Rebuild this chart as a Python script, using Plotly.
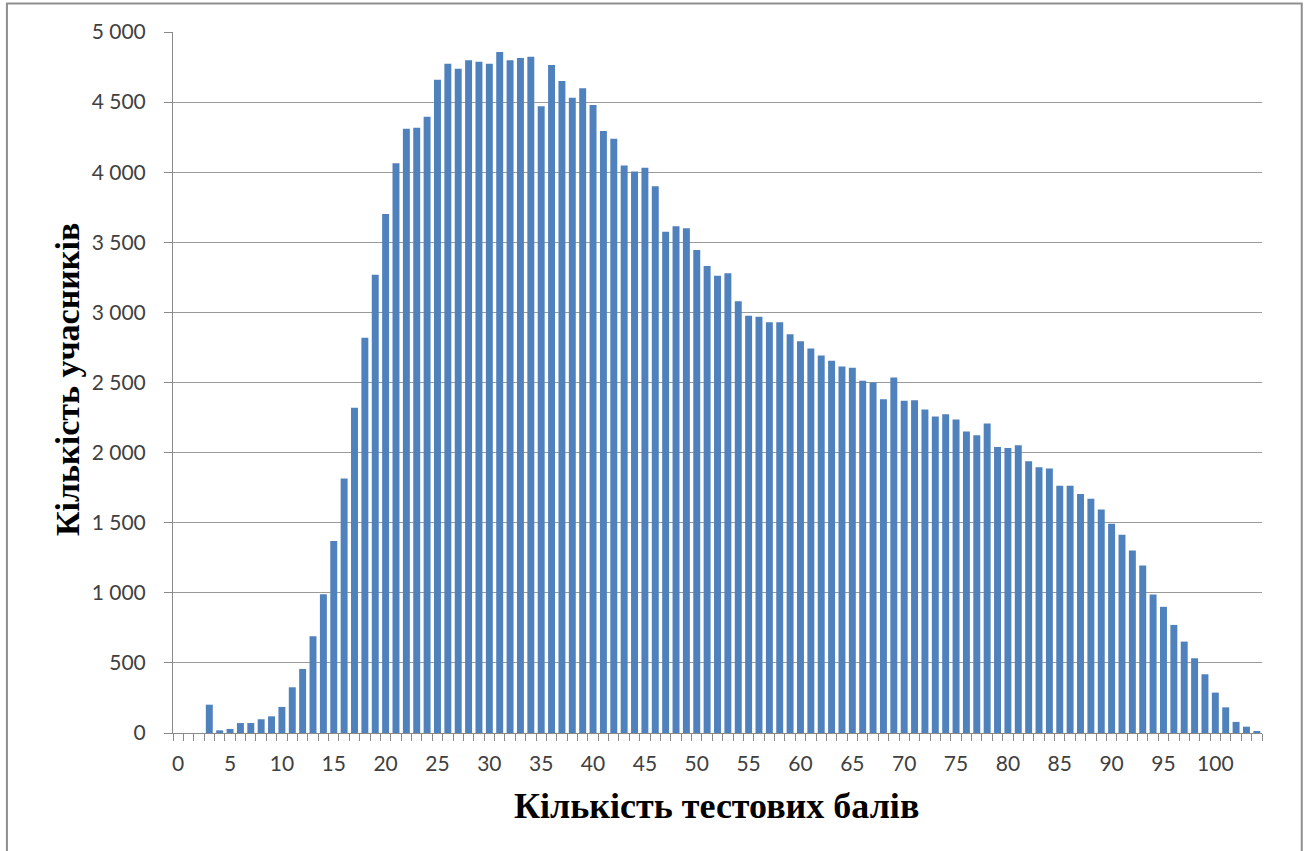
import plotly.graph_objects as go

# test score -> number of participants
scores = list(range(0, 105))
participants = [
    0, 0, 0, 202, 19, 29, 71, 71, 98, 119,
    186, 326, 457, 690, 990, 1370, 1815, 2320, 2820, 3269,
    3702, 4064, 4310, 4317, 4395, 4660, 4774, 4738, 4798, 4788,
    4774, 4857, 4798, 4814, 4824, 4471, 4764, 4650, 4531, 4598,
    4479, 4293, 4238, 4048, 4005, 4031, 3900, 3576, 3614, 3600,
    3445, 3331, 3262, 3279, 3079, 2976, 2969, 2929, 2929, 2845,
    2795, 2743, 2693, 2655, 2614, 2605, 2512, 2500, 2381, 2536,
    2369, 2374, 2307, 2257, 2273, 2236, 2150, 2124, 2207, 2040,
    2033, 2052, 1938, 1895, 1886, 1764, 1764, 1705, 1671, 1595,
    1493, 1414, 1302, 1195, 988, 900, 771, 652, 533, 419,
    288, 183, 79, 45, 10,
]
x_ticks = list(range(0, 101, 5))
x_title = "Кількість тестових балів"
y_title = "Кількість учасників"

fig = go.Figure(go.Bar(x=scores, y=participants,
                       marker_color="#4F81BD", marker_line_width=0))

tick_font = dict(family="Lato", size=21, color="#404040")

fig.update_layout(
    width=1308, height=851,
    margin=dict(l=173, r=46, t=32, b=118),
    plot_bgcolor="white", paper_bgcolor="white",
    bargap=0.33,
    separators=", ",          # "5 000" style thousands
    showlegend=False,
)
fig.update_xaxes(
    range=[-0.5, 104.5], tickmode="array", tickvals=x_ticks,
    ticks="", showgrid=False, zeroline=False,
    showline=True, linecolor="#8a8a8a", linewidth=1,
    minor=dict(ticks="outside", ticklen=7, tickcolor="#8a8a8a",
               tickmode="linear", tick0=0.5, dtick=1, showgrid=False),
    tickfont=tick_font, ticklabelstandoff=12,
)
fig.update_yaxes(
    range=[0, 5000], dtick=500, tickformat=",d",
    ticks="outside", ticklen=8, tickcolor="#8a8a8a",
    showline=True, linecolor="#8a8a8a", linewidth=1,
    gridcolor="#9a9a9a", gridwidth=1, zeroline=False,
    tickfont=tick_font, ticklabelstandoff=14,
)

# axis titles
fig.add_annotation(text="<b>" + y_title + "</b>", xref="paper", yref="paper",
                   x=-0.097, y=0.504, xanchor="center", yanchor="middle",
                   textangle=-90, showarrow=False,
                   font=dict(family="Liberation Serif", size=34, color="black"))
fig.add_annotation(text="<b>" + x_title + "</b>", xref="paper", yref="paper",
                   x=0.4995, y=-0.104, xanchor="center", yanchor="middle",
                   showarrow=False,
                   font=dict(family="Liberation Serif", size=36, color="black"))

# chart frame
fig.add_shape(type="rect", xref="paper", yref="paper",
              x0=-0.1525, x1=1.0365, y0=-0.2, y1=1.0405,
              line=dict(color="#8f8f8f", width=2))

# drop the default 8px page margin so the figure sits at the window corner
fig.write_html("out.html", config={"displayModeBar": False},
               post_script="document.body.style.margin='0';")
